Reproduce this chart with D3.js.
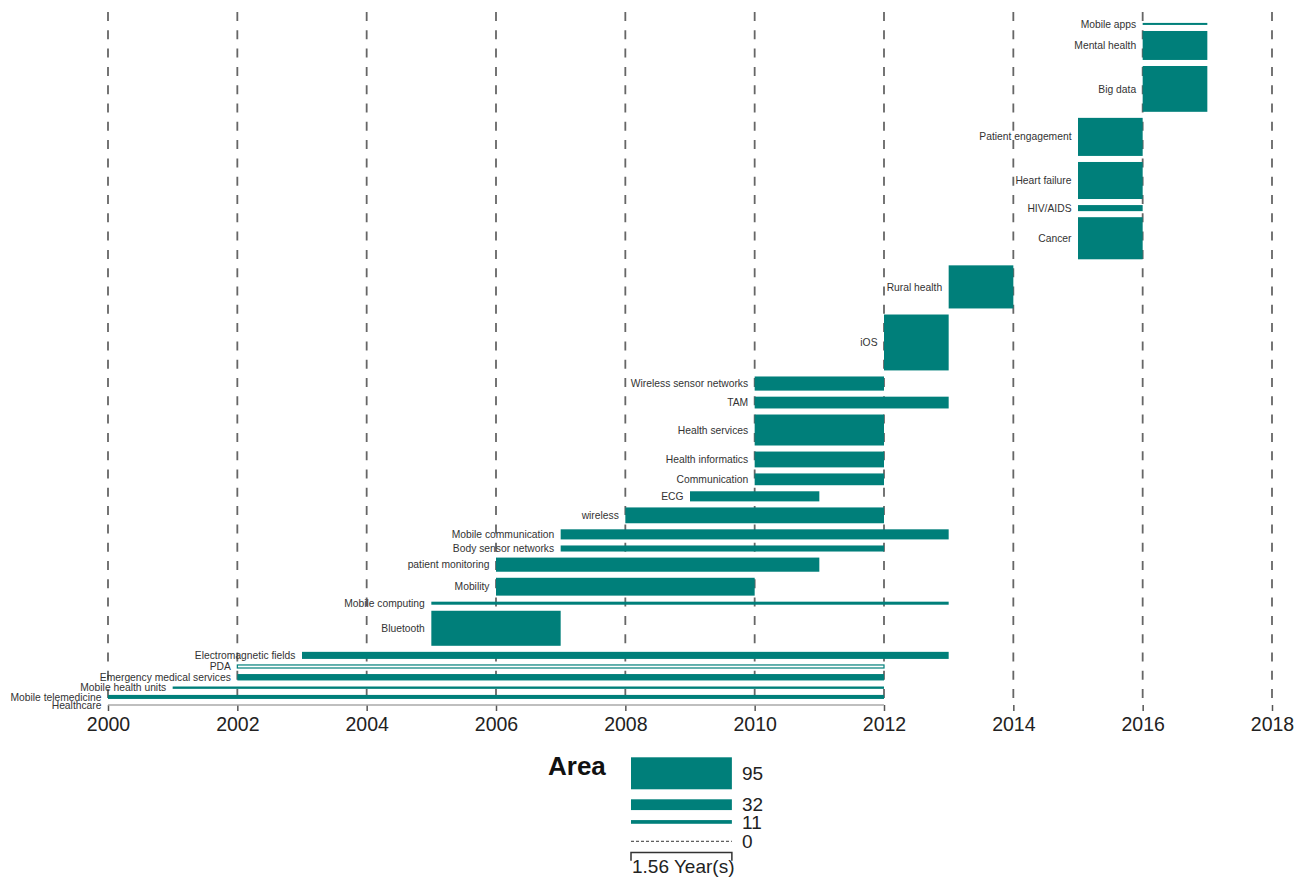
<!DOCTYPE html>
<html>
<head>
<meta charset="utf-8">
<script src="https://cdn.jsdelivr.net/npm/d3@7"></script>
<style>
  body { margin: 0; background: #fff; }
  svg { display: block; font-family: "Liberation Sans", Arial, sans-serif; }
</style>
</head>
<body>
<svg id="canvas"></svg>
<script>
const width = 1296;
const height = 881;

// rows listed bottom -> top
const terms = [
  "Healthcare", "Mobile telemedicine", "Mobile health units", "Emergency medical services",
  "PDA", "Electromagnetic fields", "Bluetooth", "Mobile computing", "Mobility",
  "patient monitoring", "Body sensor networks", "Mobile communication", "wireless", "ECG",
  "Communication", "Health informatics", "Health services", "TAM", "Wireless sensor networks",
  "iOS", "Rural health", "Cancer", "HIV/AIDS", "Heart failure", "Patient engagement",
  "Big data", "Mental health", "Mobile apps"
];
const startYears = [
  2000, 2000, 2001, 2002, 2002, 2003, 2005, 2005, 2006, 2006, 2007, 2007, 2008, 2009,
  2010, 2010, 2010, 2010, 2010, 2012, 2013, 2015, 2015, 2015, 2015, 2016, 2016, 2016
];
const endYears = [
  2012, 2012, 2012, 2012, 2012, 2013, 2007, 2013, 2010, 2011, 2012, 2013, 2012, 2011,
  2012, 2012, 2012, 2013, 2012, 2013, 2014, 2016, 2016, 2016, 2016, 2017, 2017, 2017
];
const areas = [
  0, 12, 7, 19, 9, 21, 104, 9, 53, 42, 18, 30, 47, 30,
  35, 47, 92, 35, 42, 166, 128, 125, 18, 110, 113, 136, 86, 6
];

const yearTicks = [2000, 2002, 2004, 2006, 2008, 2010, 2012, 2014, 2016, 2018];
const legendValues = [95, 32, 11, 0];
const legendSpan = 1.56;

const teal = "#007f7a";

const svg = d3.select("#canvas")
  .attr("width", width)
  .attr("height", height);

const x = d3.scaleLinear().domain([2000, 2018]).range([108, 1272]);
const thick = d3.scaleLinear().domain([0, 95]).range([0, 32]);

const baseY = 705;
const gap = 6.05;

// stack rows upward
let cursor = baseY;
const rows = terms.map((t, i) => {
  const h = thick(areas[i]);
  if (i > 0) cursor -= gap;
  const bottom = cursor;
  cursor -= h;
  return { term: t, start: startYears[i], end: endYears[i], area: areas[i], top: cursor, h: h, mid: bottom - h / 2 };
});

// gridlines
svg.append("g")
  .selectAll("line")
  .data(yearTicks)
  .enter()
  .append("line")
  .attr("x1", d => x(d))
  .attr("x2", d => x(d))
  .attr("y1", 12)
  .attr("y2", baseY)
  .attr("stroke", "#666")
  .attr("stroke-width", 1.8)
  .attr("stroke-dasharray", "9,9.3");

// axis
const axis = svg.append("g")
  .attr("transform", `translate(0,${baseY})`)
  .call(d3.axisBottom(x).tickValues(yearTicks).tickFormat(d3.format("d")).tickSizeInner(6).tickSizeOuter(0).tickPadding(6));
axis.select(".domain").remove();
axis.selectAll(".tick line").attr("stroke", "#555").attr("stroke-width", 1.5);
axis.selectAll(".tick text")
  .attr("font-family", "Liberation Sans, Arial, sans-serif")
  .attr("font-size", 19.5)
  .attr("fill", "#222");

// zero-area row as a grey line
svg.append("g")
  .selectAll("line")
  .data(rows.filter(d => d.area === 0))
  .enter()
  .append("line")
  .attr("x1", d => x(d.start))
  .attr("x2", d => x(d.end))
  .attr("y1", d => d.mid)
  .attr("y2", d => d.mid)
  .attr("stroke", "#aaa")
  .attr("stroke-width", 1.5);

// bars
svg.append("g")
  .selectAll("rect")
  .data(rows.filter(d => d.area > 0))
  .enter()
  .append("rect")
  .attr("x", d => x(d.start))
  .attr("y", d => d.top)
  .attr("width", d => x(d.end) - x(d.start))
  .attr("height", d => d.h)
  .attr("fill", d => d.term === "PDA" ? "#fff" : teal)
  .attr("stroke", d => d.term === "PDA" ? teal : "none")
  .attr("stroke-width", 1.2);

// labels
svg.append("g")
  .selectAll("text")
  .data(rows)
  .enter()
  .append("text")
  .attr("x", d => x(d.start) - 6.5)
  .attr("y", d => d.mid)
  .attr("dy", "0.35em")
  .attr("text-anchor", "end")
  .attr("font-size", 10.3)
  .attr("fill", "#333")
  .text(d => d.term);

// legend
const legend = svg.append("g");
const lx0 = 631;
const lx1 = lx0 + (x(2000 + legendSpan) - x(2000));

legend.append("text")
  .attr("x", 548)
  .attr("y", 775)
  .attr("font-size", 26)
  .attr("font-weight", "bold")
  .attr("fill", "#111")
  .text("Area");

let ly = 757.3;
legendValues.forEach((v, i) => {
  const h = thick(v);
  if (i > 0) ly += v > 0 ? 10 : 17.5;
  const mid = ly + h / 2;
  if (v > 0) {
    legend.append("rect")
      .attr("x", lx0)
      .attr("y", ly)
      .attr("width", lx1 - lx0)
      .attr("height", h)
      .attr("fill", teal);
  } else {
    legend.append("line")
      .attr("x1", lx0).attr("x2", lx1)
      .attr("y1", mid).attr("y2", mid)
      .attr("stroke", "#333")
      .attr("stroke-width", 1)
      .attr("stroke-dasharray", "3,2");
  }
  legend.append("text")
    .attr("x", 742)
    .attr("y", mid)
    .attr("dy", "0.35em")
    .attr("font-size", 19)
    .attr("fill", "#222")
    .text(v);
  ly += h;
});

legend.append("path")
  .attr("d", `M${lx0},860.7V852.5H${lx1}V860.7`)
  .attr("fill", "none")
  .attr("stroke", "#333")
  .attr("stroke-width", 1.5);

legend.append("text")
  .attr("x", lx0 + 1)
  .attr("y", 872.7)
  .attr("font-size", 19)
  .attr("fill", "#222")
  .text(`${legendSpan} Year(s)`);
</script>
</body>
</html>
